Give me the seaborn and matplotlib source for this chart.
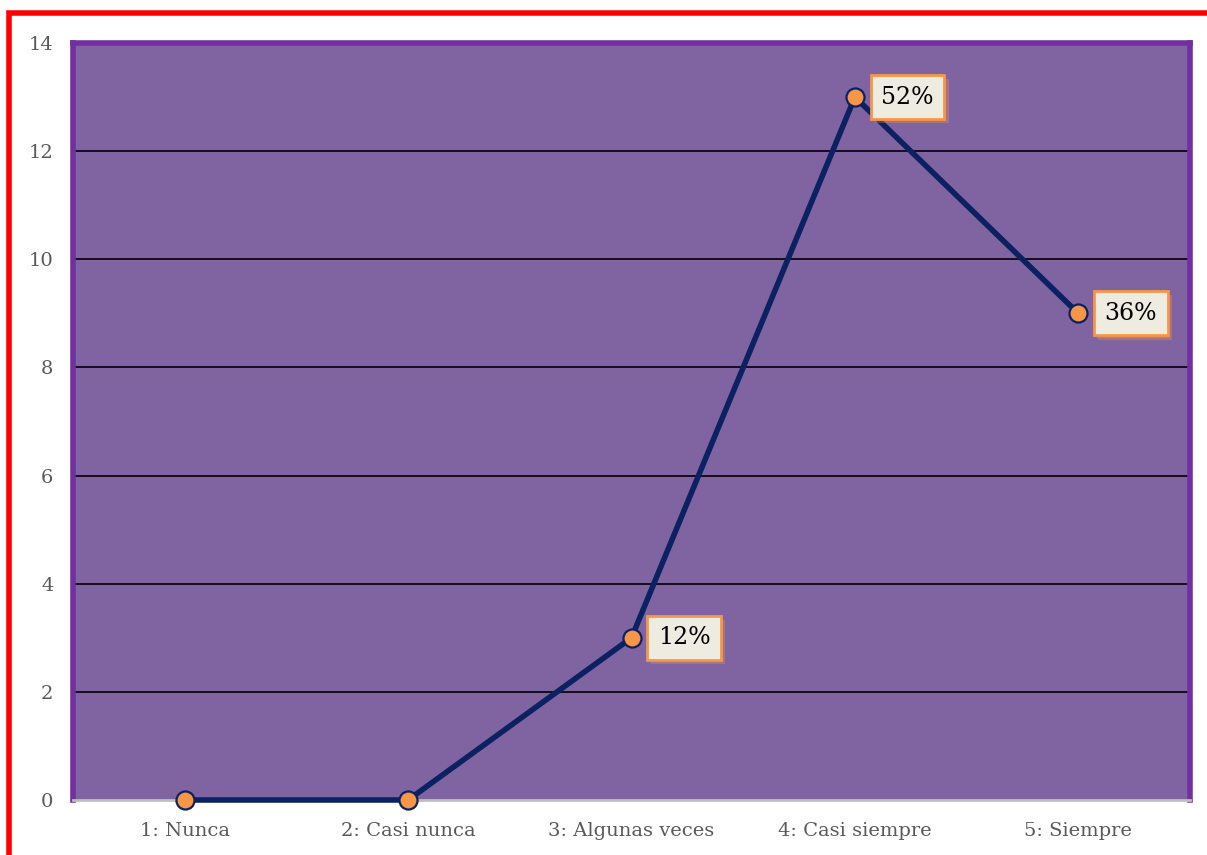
import matplotlib
matplotlib.use("Agg")
import matplotlib.pyplot as plt
import matplotlib.patheffects as pe
from matplotlib.patches import Rectangle
import seaborn as sns
import pandas as pd

categories = ["1: Nunca", "2: Casi nunca", "3: Algunas veces", "4: Casi siempre", "5: Siempre"]
counts = [0, 0, 3, 13, 9]
y_ticks = [0, 2, 4, 6, 8, 10, 12, 14]

df = pd.DataFrame({"respuesta": categories, "frecuencia": counts})
total = sum(counts)

sns.set_theme(style="white")
plt.rcParams["font.family"] = ["DejaVu Serif"]

fig = plt.figure(figsize=(12.07, 8.55), dpi=100)
ax = fig.add_axes([73 / 1207, 1 - 800 / 855, (1190 - 73) / 1207, (800 - 43) / 855])
ax.set_facecolor("#8064A2")

for y in y_ticks[1:-1]:
    ax.axhline(y, color="black", lw=1.2, zorder=1)

sns.lineplot(data=df, x="respuesta", y="frecuencia", ax=ax, color="#0B2161",
             lw=4, marker="o", markersize=13, markerfacecolor="#F79646",
             markeredgecolor="#0B2161", markeredgewidth=1.6, zorder=5,
             solid_capstyle="round")
for ln in ax.lines:
    ln.set_clip_on(False)

ax.set_xlim(-0.5, len(categories) - 0.5)
ax.set_ylim(0, 14)
ax.set_yticks(y_ticks)
ax.set_xticks(range(len(categories)))
ax.set_xticklabels(categories)
ax.set_xticks([i - 0.5 for i in range(len(categories) + 1)], minor=True)
ax.set_xlabel("")
ax.set_ylabel("")
ax.tick_params(axis="y", length=0, pad=14, labelsize=14, labelcolor="#595959")
ax.tick_params(axis="x", which="major", length=0, pad=16, labelsize=14, labelcolor="#595959")
ax.tick_params(axis="x", which="minor", length=6, width=1.5, color="#BFBFBF")

for side in ["top", "left", "right"]:
    ax.spines[side].set_color("#7030A0")
    ax.spines[side].set_linewidth(4)
ax.spines["bottom"].set_color("#BFBFBF")
ax.spines["bottom"].set_linewidth(2)

for i, v in enumerate(counts):
    if v == 0:
        continue
    pct = f"{round(100 * v / total)}%"
    t = ax.annotate(pct, xy=(i, v), xytext=(19, 0), textcoords="offset points",
                    ha="left", va="center", fontsize=17, color="black", zorder=7,
                    bbox=dict(boxstyle="square,pad=0.45", facecolor="#EEECE1",
                              edgecolor="#F79646", linewidth=2))
    t.get_bbox_patch().set_path_effects([
        pe.SimplePatchShadow(offset=(3, -3), shadow_rgbFace="#F79646", alpha=0.3),
        pe.SimplePatchShadow(offset=(1.5, -1.5), shadow_rgbFace="#F79646", alpha=0.3),
        pe.Normal()])

fig.patches.append(Rectangle((9 / 1207, -0.01), 1.1, 1 - 13 / 855 + 0.01,
                             transform=fig.transFigure, fill=False,
                             edgecolor="#FF0000", linewidth=4, zorder=10))

fig.savefig("out.png", dpi=100, facecolor="white")
